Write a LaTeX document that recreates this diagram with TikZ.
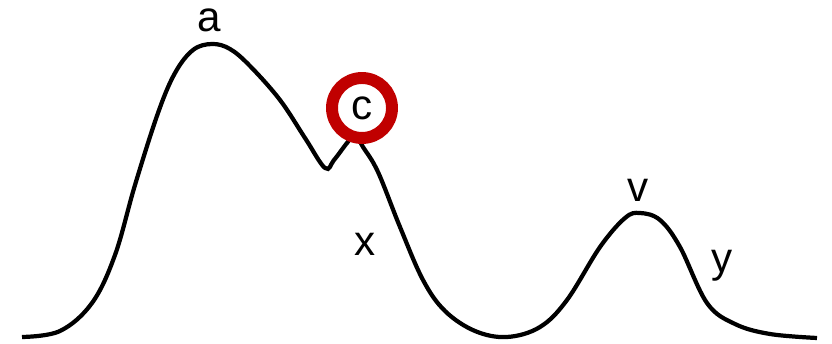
\documentclass[tikz,border=0pt]{standalone}
\usepackage{fontspec}
\setmainfont{Liberation Sans}
\usepackage{tikz}
\usetikzlibrary{positioning}
\definecolor{rossocerchio}{RGB}{192,0,0}
\tikzset{
  etichetta/.style={inner sep=0pt, font=\fontsize{24}{28}\selectfont},
  curva/.style={line width=2.4pt, smooth, tension=0.6}
}
\begin{document}
\begin{tikzpicture}[x=0.02cm, y=-0.02cm]
        \useasboundingbox (0,0) rectangle (832,344);
        %disegno curva
        \draw[curva] plot coordinates {(22,337) (60,331) (92,303) (115,255) (135,185) (158,113) (175,73) (193,50) (212,44) (230,49) (250,66) (280,100) (305,138) (325,168) (334,160) (347,143) (355,135) (363,147) (378,172) (400,227) (423,280) (445,311) (475,331) (507,337) (540,327) (567,300) (600,247) (625,218) (640,213) (660,220) (680,247) (707,303) (735,324) (770,334) (817,338)};
        %disegno cerchio rosso
        \node[etichetta, circle, draw=rossocerchio, fill=white, line width=6.8pt, minimum size=1.2cm] (c) at (362,108) {c};
        %labels
        \node[etichetta] (a) at (209,20) {a};
        \node[etichetta] (x) at (365,244) {x};
        \node[etichetta] (v) at (638,190) {v};
        \node[etichetta] (y) at (722,266) {y};
\end{tikzpicture}
\end{document}
